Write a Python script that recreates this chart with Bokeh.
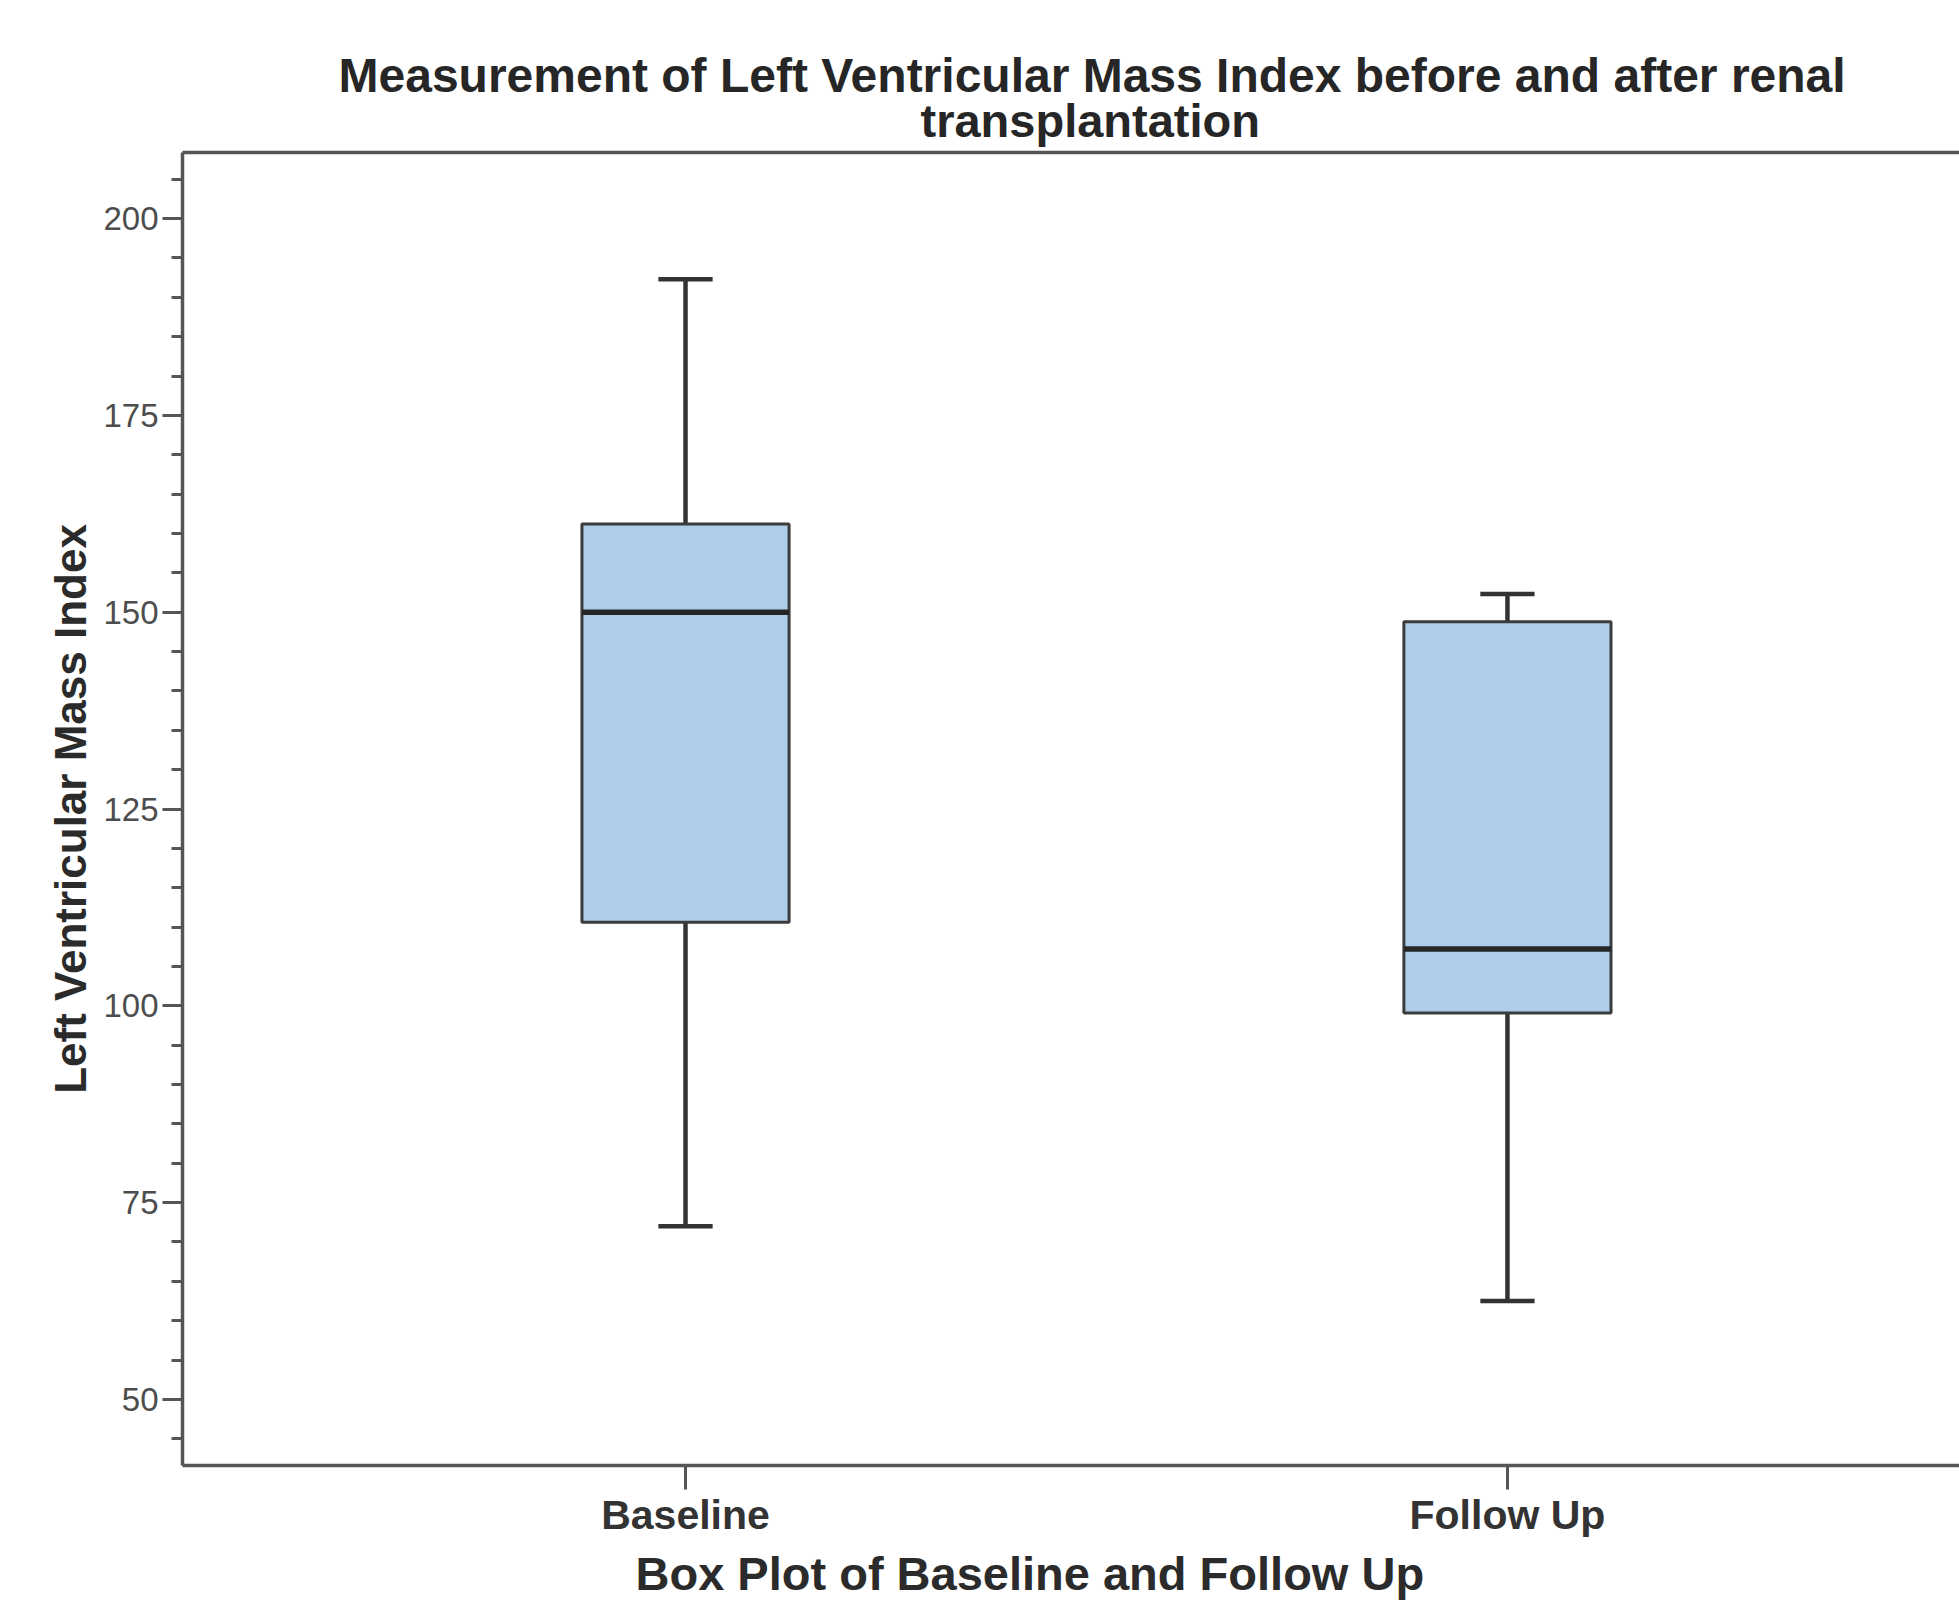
from bokeh.plotting import figure
from bokeh.models import (Range1d, LinearAxis, SingleIntervalTicker, FixedTicker,
                          Title, ColumnDataSource)
from bokeh.embed import file_html
from bokeh.resources import INLINE

# ---- data ----
categories = ["Baseline", "Follow Up"]
lower_whisker = [72.0, 62.5]
q1 = [110.6, 99.1]
median = [150.0, 107.2]
q3 = [161.2, 148.8]
upper_whisker = [192.3, 152.3]

title_lines = ["Measurement of Left Ventricular Mass Index before and after renal",
               "transplantation"]
x_label = "Box Plot of Baseline and Follow Up"
y_label = "Left Ventricular Mass Index"
y_tick_interval = 25
y_min, y_max = 41.6, 208.4

# ---- styles ----
FONT = "Liberation Sans"
BOX_W = 0.252
CAP_W = 0.066
AXIS_C = "#555555"
LINE_C = "#333333"

xs = list(range(len(categories)))

src = ColumnDataSource(dict(
    x=xs, lw=lower_whisker, q1=q1, med=median, q3=q3, uw=upper_whisker,
    cap_l=[x - CAP_W / 2 for x in xs], cap_r=[x + CAP_W / 2 for x in xs],
    box_l=[x - BOX_W / 2 for x in xs], box_r=[x + BOX_W / 2 for x in xs],
))

p = figure(width=1959, height=1603,
           x_range=Range1d(-0.612, 1.550), y_range=Range1d(y_min, y_max),
           output_backend="svg", toolbar_location=None, title=None,
           min_border_left=182, min_border_right=0,
           min_border_top=152, min_border_bottom=137,
           background_fill_color="white", border_fill_color="white",
           outline_line_color=None)
p.xgrid.visible = False
p.ygrid.visible = False

# whiskers
p.segment(x0="x", y0="q3", x1="x", y1="uw", source=src, line_color=LINE_C, line_width=4.5)
p.segment(x0="x", y0="lw", x1="x", y1="q1", source=src, line_color=LINE_C, line_width=4.5)
p.segment(x0="cap_l", y0="uw", x1="cap_r", y1="uw", source=src, line_color=LINE_C, line_width=4.5)
p.segment(x0="cap_l", y0="lw", x1="cap_r", y1="lw", source=src, line_color=LINE_C, line_width=4.5)
# boxes
p.vbar(x="x", width=BOX_W, bottom="q1", top="q3", source=src,
       fill_color="#adcde9", line_color="#3c3c3c", line_width=3)
# medians
p.segment(x0="box_l", y0="med", x1="box_r", y1="med", source=src,
          line_color="#262626", line_width=5.5)

# y axis
ya = p.yaxis[0]
ya.ticker = SingleIntervalTicker(interval=y_tick_interval, num_minor_ticks=5)
ya.axis_line_color = AXIS_C
ya.axis_line_width = 3.5
ya.major_tick_line_color = AXIS_C
ya.major_tick_line_width = 3
ya.major_tick_out = 20
ya.major_tick_in = 0
ya.minor_tick_line_color = AXIS_C
ya.minor_tick_line_width = 3
ya.minor_tick_out = 11
ya.minor_tick_in = 0
ya.major_label_text_font = FONT
ya.major_label_text_font_size = "33px"
ya.major_label_text_color = "#4d4d4d"
ya.major_label_standoff = 4
ya.axis_label = y_label
ya.axis_label_text_font = FONT
ya.axis_label_text_font_size = "44px"
ya.axis_label_text_font_style = "bold"
ya.axis_label_text_color = "#2b2b2b"
ya.axis_label_standoff = 5

# x axis
xa = p.xaxis[0]
xa.ticker = FixedTicker(ticks=xs)
xa.major_label_overrides = {x: c for x, c in zip(xs, categories)}
xa.axis_line_color = AXIS_C
xa.axis_line_width = 3.5
xa.major_tick_line_color = AXIS_C
xa.major_tick_line_width = 3
xa.major_tick_out = 24
xa.major_tick_in = 0
xa.minor_tick_out = 0
xa.minor_tick_in = 0
xa.major_label_text_font = FONT
xa.major_label_text_font_size = "41px"
xa.major_label_text_font_style = "bold"
xa.major_label_text_color = "#333333"
xa.major_label_standoff = 2

# top frame line
top = LinearAxis(ticker=FixedTicker(ticks=[]), axis_line_color=AXIS_C, axis_line_width=3.5,
                 major_tick_out=0, major_tick_in=0, minor_tick_out=0, minor_tick_in=0,
                 major_label_text_font_size="0px", major_label_standoff=0)
p.add_layout(top, "above")

# title: two lines, each placed over the reference's centre
p.add_layout(Title(text=title_lines[1], align="left", offset=738, standoff=12,
                   text_font=FONT, text_font_size="47px", text_font_style="bold",
                   text_color="#262626"), "above")
p.add_layout(Title(text=title_lines[0], align="left", offset=156, standoff=-33,
                   text_font=FONT, text_font_size="48px", text_font_style="bold",
                   text_color="#262626"), "above")

# x-axis title
p.add_layout(Title(text=x_label, align="left", offset=453, standoff=8,
                   text_font=FONT, text_font_size="47px", text_font_style="bold",
                   text_color="#2b2b2b"), "below")

open("out.html", "w").write(file_html(p, INLINE))
